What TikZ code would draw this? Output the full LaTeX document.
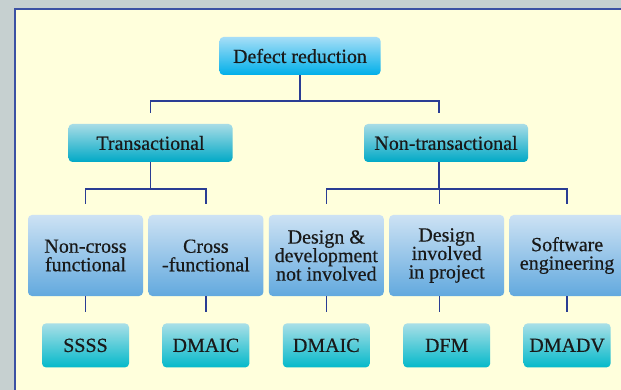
\documentclass[tikz,border=0pt]{standalone}
\usepackage{fontspec}
\setmainfont{Liberation Serif}
\newfontfamily\boxfont[FakeBold=0.5]{Liberation Serif}
\usetikzlibrary{positioning}

\definecolor{backdrop}{HTML}{C6D0D0}
\definecolor{paper}{HTML}{FFFFDC}
\definecolor{frame}{HTML}{3C51A3}
\definecolor{wireblue}{HTML}{2A3D94}
\definecolor{rootTop}{HTML}{A6DEF7}
\definecolor{rootBot}{HTML}{00AFE9}
\definecolor{kindTop}{HTML}{A8DCE6}
\definecolor{kindBot}{HTML}{00A9C6}
\definecolor{areaTop}{HTML}{CDE2F4}
\definecolor{areaBot}{HTML}{62A9DE}
\definecolor{methTop}{HTML}{A9DFE7}
\definecolor{methBot}{HTML}{04B9CA}

\begin{document}
\begin{tikzpicture}[x=1pt,y=-1pt,node distance=5pt,
    box/.style={rounded corners=4pt,inner sep=0pt,align=center,text=black!90,
      font=\boxfont\fontsize{20}{18.5}\selectfont},
    rootbox/.style={box,top color=rootTop,bottom color=rootBot,minimum width=161pt,minimum height=38pt},
    kindbox/.style={box,top color=kindTop,bottom color=kindBot,minimum width=164pt,minimum height=38pt},
    areabox/.style={box,top color=areaTop,bottom color=areaBot,minimum width=115pt,minimum height=81pt},
    methbox/.style={box,top color=methTop,bottom color=methBot,minimum width=87pt,minimum height=44pt},
    wire/.style={draw=wireblue,line width=1.4pt},
    link/.style={wire,shorten >=11pt}]
    \useasboundingbox (0,0) rectangle (621,390);
    \clip (0,0) rectangle (621,390);
    \fill[backdrop] (0,0) rectangle (621,390);
    \draw[frame,fill=paper,line width=2pt] (15,9) rectangle (640,400);

    % top of the tree
    \node[rootbox] (root) at (300,56) {Defect reduction};
    \node[kindbox] (trans) at (150.5,143) {Transactional};
    \node[kindbox] (nontrans) at (446,143) {Non-transactional};

    % areas
    \node[areabox] (ncf) at (85.5,255.5) {Non-cross\\functional};
    \node[areabox, right=of ncf] (cf) {Cross\\-functional};
    \node[areabox, right=of cf] (ddn) {Design \&\\development\\not involved};
    \node[areabox, right=of ddn] (dip) {Design\\involved\\in project};
    \node[areabox, right=of dip] (swe) {Software\\engineering};

    % methods
    \node[methbox, below=27pt of ncf] (ssss) {SSSS};
    \node[methbox, below=27pt of cf] (dmaic) {DMAIC};
    \node[methbox, below=27pt of ddn] (dmaicb) {DMAIC};
    \node[methbox, below=27pt of dip] (dfm) {DFM};
    \node[methbox, below=27pt of swe] (dmadv) {DMADV};

    \draw[wire] (root.south) -- ++(0,26) coordinate (rootfork);
    \foreach \to/\dx in {trans/0,nontrans/-7}
        \draw[link] (rootfork) -| ([xshift=\dx pt]\to.north);

    \draw[wire] (trans.south) -- ++(0,27) coordinate (tfork);
    \foreach \to in {ncf,cf}
        \draw[link] (tfork) -| (\to.north);

    \draw[wire] ([xshift=-7pt]nontrans.south) -- ++(0,27) coordinate (nfork);
    \foreach \to/\dx in {ddn/0,dip/-7,swe/0}
        \draw[link] (nfork) -| ([xshift=\dx pt]\to.north);

    \foreach \from/\to/\dx in {ncf/ssss/0,cf/dmaic/0,ddn/dmaicb/0,dip/dfm/-7,swe/dmadv/0}
        \draw[link] ([xshift=\dx pt]\from.south) -- ([xshift=\dx pt]\to.north);
\end{tikzpicture}
\end{document}
